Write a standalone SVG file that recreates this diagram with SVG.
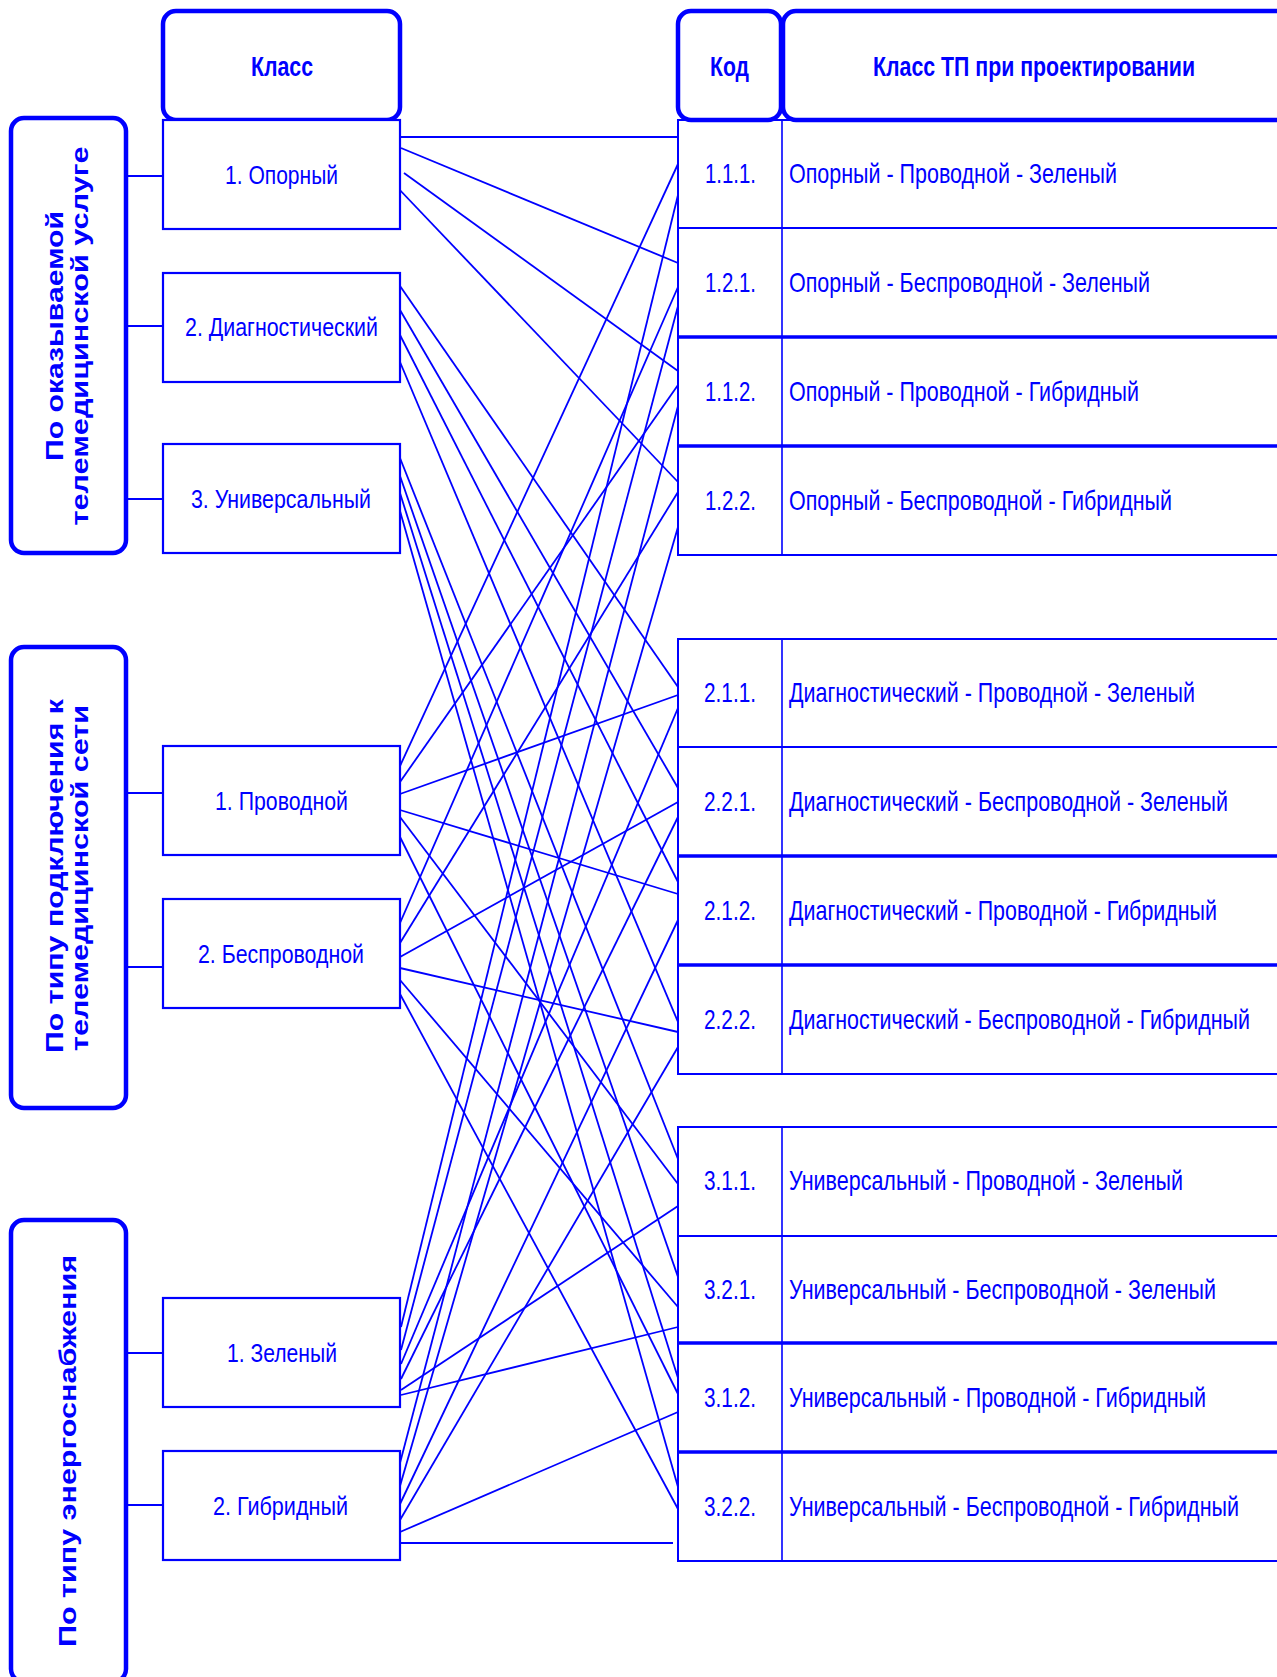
<svg xmlns="http://www.w3.org/2000/svg" width="1277" height="1677" viewBox="0 0 1277 1677">
<style>
.bg{fill:#fff}
.grp{fill:#fff;stroke:#0000ff;stroke-width:4.5}
.hdr{fill:#fff;stroke:#0000ff;stroke-width:4.5}
.node{fill:#fff;stroke:#0000ff;stroke-width:2.2}
.tbl{fill:none;stroke:#0000ff;stroke-width:2}
.thick{stroke:#0000ff;stroke-width:3.6}
.thin{stroke:#0000ff;stroke-width:2}
.vdiv{stroke:#0000ff;stroke-width:1.6}
.conn path{fill:none;stroke:#0000ff;stroke-width:1.8}
.t{font-family:"Liberation Sans",Arial,sans-serif;fill:#0000ff;font-size:25px}
.r{font-family:"Liberation Sans",Arial,sans-serif;fill:#0000ff;font-size:27.5px}
.h{font-family:"Liberation Sans",Arial,sans-serif;fill:#0000ff;font-size:27px;font-weight:bold}
.v{font-family:"Liberation Sans",Arial,sans-serif;fill:#0000ff;font-size:23px;font-weight:bold}
</style>
<rect class="bg" x="0" y="0" width="1277" height="1677"/>

<g id="connectors" class="conn">
<path d="M126,176 H163"/>
<path d="M126,326 H163"/>
<path d="M126,499 H163"/>
<path d="M126,793 H163"/>
<path d="M126,967 H163"/>
<path d="M126,1353 H163"/>
<path d="M126,1505 H163"/>
<path d="M401,137 L678,137"/>
<path d="M401,148 L678,263"/>
<path d="M404,173 L678,371"/>
<path d="M397,187 L678,482"/>
<path d="M400,286 L678,687"/>
<path d="M400,310 L678,788"/>
<path d="M400,335 L678,882"/>
<path d="M400,362 L678,1022"/>
<path d="M400,458 L678,1159"/>
<path d="M400,476 L678,1277"/>
<path d="M400,493 L678,1378"/>
<path d="M400,511 L678,1487"/>
<path d="M400,766 L678,164"/>
<path d="M400,782 L678,385"/>
<path d="M400,794 L678,695"/>
<path d="M400,810 L678,894"/>
<path d="M400,817 L678,1184"/>
<path d="M400,837 L678,1394"/>
<path d="M400,923 L678,287"/>
<path d="M400,943 L678,492"/>
<path d="M400,957 L678,802"/>
<path d="M400,968 L678,1032"/>
<path d="M400,980 L678,1307"/>
<path d="M400,994 L678,1509"/>
<path d="M401,1327 L678,195"/>
<path d="M401,1350 L678,306"/>
<path d="M401,1364 L678,708"/>
<path d="M401,1379 L678,817"/>
<path d="M401,1390 L678,1206"/>
<path d="M401,1395 L678,1327"/>
<path d="M400,1463 L678,406"/>
<path d="M400,1486 L678,527"/>
<path d="M400,1504 L678,920"/>
<path d="M400,1520 L678,1047"/>
<path d="M400,1532 L678,1412"/>
<path d="M400,1543 L673,1543"/>
</g>

<g id="grp-service">
<rect class="grp" x="11" y="118" width="115" height="435" rx="13"/>
<text class="v" transform="translate(62.5,336) rotate(-90)" text-anchor="middle" textLength="250" lengthAdjust="spacingAndGlyphs">По оказываемой</text>
<text class="v" transform="translate(88,336) rotate(-90)" text-anchor="middle" textLength="379" lengthAdjust="spacingAndGlyphs">телемедицинской услуге</text>
</g>
<g id="grp-connection">
<rect class="grp" x="11" y="647" width="115" height="461" rx="13"/>
<text class="v" transform="translate(62.5,876) rotate(-90)" text-anchor="middle" textLength="354" lengthAdjust="spacingAndGlyphs">По типу подключения к</text>
<text class="v" transform="translate(88,878) rotate(-90)" text-anchor="middle" textLength="346" lengthAdjust="spacingAndGlyphs">телемедицинской сети</text>
</g>
<g id="grp-power">
<rect class="grp" x="11" y="1220" width="115" height="462" rx="13"/>
<text class="v" transform="translate(76,1451) rotate(-90)" text-anchor="middle" textLength="392" lengthAdjust="spacingAndGlyphs">По типу энергоснабжения</text>
</g>

<g id="hdr-class">
<rect class="hdr" x="163" y="11" width="237" height="109" rx="13"/>
<text class="h" x="251" y="76" textLength="62" lengthAdjust="spacingAndGlyphs">Класс</text>
</g>
<g id="n-opor">
<rect class="node" x="163" y="120" width="237" height="109"/>
<text class="t" x="225" y="184" textLength="113" lengthAdjust="spacingAndGlyphs">1. Опорный</text>
</g>
<g id="n-diag">
<rect class="node" x="163" y="273" width="237" height="109"/>
<text class="t" x="185" y="336" textLength="193" lengthAdjust="spacingAndGlyphs">2. Диагностический</text>
</g>
<g id="n-univ">
<rect class="node" x="163" y="444" width="237" height="109"/>
<text class="t" x="191" y="508" textLength="180" lengthAdjust="spacingAndGlyphs">3. Универсальный</text>
</g>
<g id="n-prov">
<rect class="node" x="163" y="746" width="237" height="109"/>
<text class="t" x="215" y="810" textLength="133" lengthAdjust="spacingAndGlyphs">1. Проводной</text>
</g>
<g id="n-besp">
<rect class="node" x="163" y="899" width="237" height="109"/>
<text class="t" x="198" y="963" textLength="166" lengthAdjust="spacingAndGlyphs">2. Беспроводной</text>
</g>
<g id="n-zel">
<rect class="node" x="163" y="1298" width="237" height="109"/>
<text class="t" x="227" y="1362" textLength="110" lengthAdjust="spacingAndGlyphs">1. Зеленый</text>
</g>
<g id="n-gib">
<rect class="node" x="163" y="1451" width="237" height="109"/>
<text class="t" x="213" y="1515" textLength="135" lengthAdjust="spacingAndGlyphs">2. Гибридный</text>
</g>

<g id="hdr-code">
<rect class="hdr" x="678" y="11" width="103" height="109" rx="13"/>
<text class="h" x="710" y="76" textLength="39" lengthAdjust="spacingAndGlyphs">Код</text>
</g>
<g id="hdr-tp">
<rect class="hdr" x="783" y="11" width="510" height="109" rx="13"/>
<text class="h" x="873" y="76" textLength="322" lengthAdjust="spacingAndGlyphs">Класс ТП при проектировании</text>
</g>

<g id="tbl-1">
<rect class="tbl" x="678" y="120" width="602" height="435"/>
<line class="vdiv" x1="782" y1="120" x2="782" y2="555"/>
<line class="thin" x1="678" y1="228" x2="1280" y2="228"/>
<line class="thick" x1="678" y1="337" x2="1280" y2="337"/>
<line class="thick" x1="678" y1="446" x2="1280" y2="446"/>
<g id="r111"><text class="r" x="705" y="183" textLength="51" lengthAdjust="spacingAndGlyphs">1.1.1.</text><text class="r" x="789" y="183" textLength="328" lengthAdjust="spacingAndGlyphs">Опорный - Проводной - Зеленый</text></g>
<g id="r121"><text class="r" x="705" y="292" textLength="51" lengthAdjust="spacingAndGlyphs">1.2.1.</text><text class="r" x="789" y="292" textLength="361" lengthAdjust="spacingAndGlyphs">Опорный - Беспроводной - Зеленый</text></g>
<g id="r112"><text class="r" x="705" y="401" textLength="51" lengthAdjust="spacingAndGlyphs">1.1.2.</text><text class="r" x="789" y="401" textLength="350" lengthAdjust="spacingAndGlyphs">Опорный - Проводной - Гибридный</text></g>
<g id="r122"><text class="r" x="705" y="510" textLength="51" lengthAdjust="spacingAndGlyphs">1.2.2.</text><text class="r" x="789" y="510" textLength="383" lengthAdjust="spacingAndGlyphs">Опорный - Беспроводной - Гибридный</text></g>
</g>

<g id="tbl-2">
<rect class="tbl" x="678" y="639" width="602" height="435"/>
<line class="vdiv" x1="782" y1="639" x2="782" y2="1074"/>
<line class="thin" x1="678" y1="747" x2="1280" y2="747"/>
<line class="thick" x1="678" y1="856" x2="1280" y2="856"/>
<line class="thick" x1="678" y1="965" x2="1280" y2="965"/>
<g id="r211"><text class="r" x="704" y="702" textLength="52" lengthAdjust="spacingAndGlyphs">2.1.1.</text><text class="r" x="789" y="702" textLength="406" lengthAdjust="spacingAndGlyphs">Диагностический - Проводной - Зеленый</text></g>
<g id="r221"><text class="r" x="704" y="811" textLength="52" lengthAdjust="spacingAndGlyphs">2.2.1.</text><text class="r" x="789" y="811" textLength="439" lengthAdjust="spacingAndGlyphs">Диагностический - Беспроводной - Зеленый</text></g>
<g id="r212"><text class="r" x="704" y="920" textLength="52" lengthAdjust="spacingAndGlyphs">2.1.2.</text><text class="r" x="789" y="920" textLength="428" lengthAdjust="spacingAndGlyphs">Диагностический - Проводной - Гибридный</text></g>
<g id="r222"><text class="r" x="704" y="1029" textLength="52" lengthAdjust="spacingAndGlyphs">2.2.2.</text><text class="r" x="789" y="1029" textLength="461" lengthAdjust="spacingAndGlyphs">Диагностический - Беспроводной - Гибридный</text></g>
</g>

<g id="tbl-3">
<rect class="tbl" x="678" y="1127" width="602" height="434"/>
<line class="vdiv" x1="782" y1="1127" x2="782" y2="1561"/>
<line class="thin" x1="678" y1="1236" x2="1280" y2="1236"/>
<line class="thick" x1="678" y1="1343" x2="1280" y2="1343"/>
<line class="thick" x1="678" y1="1452" x2="1280" y2="1452"/>
<g id="r311"><text class="r" x="704" y="1190" textLength="52" lengthAdjust="spacingAndGlyphs">3.1.1.</text><text class="r" x="789" y="1190" textLength="394" lengthAdjust="spacingAndGlyphs">Универсальный - Проводной - Зеленый</text></g>
<g id="r321"><text class="r" x="704" y="1299" textLength="52" lengthAdjust="spacingAndGlyphs">3.2.1.</text><text class="r" x="789" y="1299" textLength="427" lengthAdjust="spacingAndGlyphs">Универсальный - Беспроводной - Зеленый</text></g>
<g id="r312"><text class="r" x="704" y="1407" textLength="52" lengthAdjust="spacingAndGlyphs">3.1.2.</text><text class="r" x="789" y="1407" textLength="417" lengthAdjust="spacingAndGlyphs">Универсальный - Проводной - Гибридный</text></g>
<g id="r322"><text class="r" x="704" y="1516" textLength="52" lengthAdjust="spacingAndGlyphs">3.2.2.</text><text class="r" x="789" y="1516" textLength="450" lengthAdjust="spacingAndGlyphs">Универсальный - Беспроводной - Гибридный</text></g>
</g>
</svg>
